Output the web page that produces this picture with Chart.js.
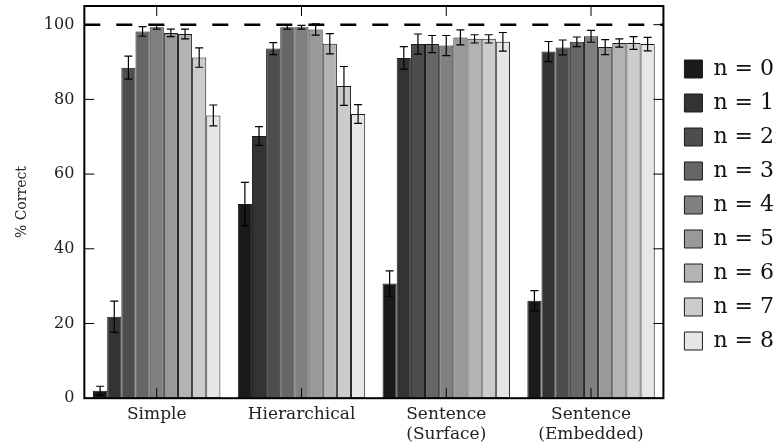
<!DOCTYPE html>
<html>
<head>
<meta charset="utf-8">
<script src="https://cdn.jsdelivr.net/npm/chart.js@4"></script>
<style>
  html, body { margin: 0; padding: 0; background: #fff; }
  #wrap { width: 775px; height: 446px; }
</style>
</head>
<body>
<div id="wrap"><canvas id="chart" width="775" height="446"></canvas></div>
<script>
// categories on the x axis
const categories = ['Simple', 'Hierarchical', ['Sentence', '(Surface)'], ['Sentence', '(Embedded)']];
const seriesNames = ['n = 0', 'n = 1', 'n = 2', 'n = 3', 'n = 4', 'n = 5', 'n = 6', 'n = 7', 'n = 8'];
const seriesColors = ['#1a1a1a', '#333333', '#4d4d4d', '#666666', '#808080', '#999999', '#b3b3b3', '#cccccc', '#e6e6e6'];

// % correct, one row per n, one value per category
const n0 = [2.0, 52.0, 30.7, 26.1];
const n1 = [21.8, 70.2, 91.1, 92.8];
const n2 = [88.5, 93.6, 94.8, 93.9];
const n3 = [98.2, 99.3, 94.8, 95.4];
const n4 = [99.3, 99.3, 94.4, 96.9];
const n5 = [97.8, 98.7, 96.6, 94.0];
const n6 = [97.5, 94.9, 96.2, 95.1];
const n7 = [91.2, 83.6, 96.2, 95.1];
const n8 = [75.7, 76.1, 95.4, 94.8];
const values = [n0, n1, n2, n3, n4, n5, n6, n7, n8];

// error bar half widths, same layout
const e0 = [1.2, 5.8, 3.4, 2.7];
const e1 = [4.2, 2.5, 3.0, 2.7];
const e2 = [3.1, 1.6, 2.7, 2.0];
const e3 = [1.3, 0.5, 2.3, 1.3];
const e4 = [0.5, 0.5, 2.7, 1.6];
const e5 = [1.0, 1.5, 2.0, 2.0];
const e6 = [1.3, 2.7, 1.1, 1.1];
const e7 = [2.6, 5.2, 1.1, 1.7];
const e8 = [2.8, 2.5, 2.5, 1.8];
const errors = [e0, e1, e2, e3, e4, e5, e6, e7, e8];

const yTicks = [0, 20, 40, 60, 80, 100];
const refLine = 100;

const serif = 'DejaVu Serif';

const datasets = values.map((v, i) => ({
  label: seriesNames[i],
  data: v,
  backgroundColor: seriesColors[i],
  borderColor: '#1a1a1a',
  borderWidth: 1,
  borderSkipped: false,
  categoryPercentage: 0.88,
  barPercentage: 1.0
}));

// frame, inward ticks, dashed reference line and error bars
const extras = {
  id: 'extras',
  beforeDatasetsDraw(chart) {
    const ctx = chart.ctx;
    const a = chart.chartArea;
    const y = chart.scales.y;
    ctx.save();
    ctx.strokeStyle = '#000';
    ctx.lineWidth = 2.5;
    ctx.setLineDash([16, 16]);
    const py = y.getPixelForValue(refLine);
    ctx.beginPath();
    ctx.moveTo(a.left, py);
    ctx.lineTo(a.right, py);
    ctx.stroke();
    ctx.restore();
  },
  afterDatasetsDraw(chart) {
    const ctx = chart.ctx;
    const a = chart.chartArea;
    const x = chart.scales.x;
    const y = chart.scales.y;
    ctx.save();
    // error bars
    ctx.strokeStyle = '#000';
    ctx.lineWidth = 1.2;
    chart.data.datasets.forEach((ds, i) => {
      const meta = chart.getDatasetMeta(i);
      meta.data.forEach((el, j) => {
        const v = values[i][j];
        const e = errors[i][j];
        const top = y.getPixelForValue(v + e);
        const bot = y.getPixelForValue(Math.max(0, v - e));
        const cx = el.x;
        ctx.beginPath();
        ctx.moveTo(cx, top); ctx.lineTo(cx, bot);
        ctx.moveTo(cx - 4, top); ctx.lineTo(cx + 4, top);
        ctx.moveTo(cx - 4, bot); ctx.lineTo(cx + 4, bot);
        ctx.stroke();
      });
    });
    // inward ticks
    ctx.lineWidth = 1;
    yTicks.forEach(t => {
      const py = y.getPixelForValue(t);
      ctx.beginPath();
      ctx.moveTo(a.left, py); ctx.lineTo(a.left + 10, py);
      ctx.moveTo(a.right, py); ctx.lineTo(a.right - 10, py);
      ctx.stroke();
    });
    categories.forEach((c, j) => {
      const px = x.getPixelForValue(j);
      ctx.beginPath();
      ctx.moveTo(px, a.bottom); ctx.lineTo(px, a.bottom - 10);
      ctx.moveTo(px, a.top); ctx.lineTo(px, a.top + 10);
      ctx.stroke();
    });
    // frame
    ctx.lineWidth = 2;
    ctx.strokeRect(a.left, a.top, a.right - a.left, a.bottom - a.top);
    ctx.restore();
  }
};

new Chart(document.getElementById('chart'), {
  type: 'bar',
  data: { labels: categories, datasets: datasets },
  plugins: [extras],
  options: {
    responsive: false,
    animation: false,
    layout: { padding: { top: 6, right: -9, left: 14, bottom: -5 } },
    plugins: {
      tooltip: { enabled: false },
      legend: {
        position: 'right',
        align: 'start',
        title: {
          display: true,
          text: ' ',
          font: { size: 1, lineHeight: 1 },
          padding: { top: 20, bottom: 19 }
        },
        labels: {
          color: '#111',
          font: { family: serif, size: 22 },
          boxWidth: 18,
          boxHeight: 18,
          padding: 12,
          generateLabels(chart) {
            return chart.data.datasets.map((ds, i) => ({
              text: ds.label,
              fillStyle: ds.backgroundColor,
              strokeStyle: '#1a1a1a',
              fontColor: '#111',
              lineWidth: 1,
              datasetIndex: i
            }));
          }
        }
      }
    },
    scales: {
      x: {
        grid: { display: false, drawTicks: false },
        border: { display: false },
        ticks: {
          color: '#222',
          font: { family: serif, size: 17 },
          maxRotation: 0,
          autoSkip: false,
          padding: 6
        }
      },
      y: {
        min: 0,
        max: 105,
        grid: { display: false, drawTicks: true, tickLength: 10 },
        border: { display: false },
        afterBuildTicks(scale) {
          scale.ticks = yTicks.map(v => ({ value: v }));
        },
        ticks: {
          color: '#222',
          font: { family: serif, size: 16, lineHeight: 0.2 },
          padding: 0
        },
        title: {
          display: true,
          text: '% Correct',
          color: '#222',
          font: { family: serif, size: 14 },
          padding: { top: 0, bottom: 13 }
        }
      },
      y2: {
        position: 'right',
        display: true,
        grid: { display: false, drawTicks: true, tickLength: 9 },
        border: { display: false },
        ticks: { display: false }
      }
    }
  }
});
</script>
</body>
</html>
